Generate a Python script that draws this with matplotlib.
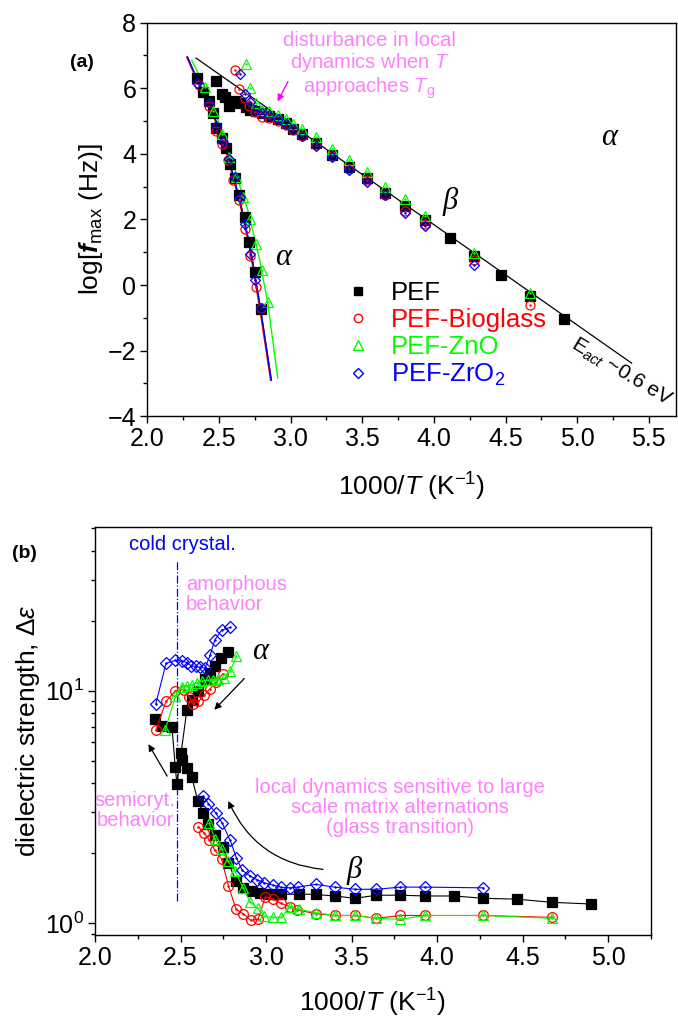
import matplotlib
matplotlib.use("Agg")
import matplotlib.pyplot as plt
from matplotlib.ticker import MultipleLocator, LogLocator, NullFormatter, FixedLocator
from matplotlib.lines import Line2D

plt.rcParams['font.family'] = ['Liberation Sans', 'DejaVu Sans']
plt.rcParams['mathtext.fontset'] = 'custom'
plt.rcParams['mathtext.rm'] = 'Liberation Sans'
plt.rcParams['mathtext.it'] = 'Liberation Sans:italic'
plt.rcParams['mathtext.bf'] = 'Liberation Sans:bold'
plt.rcParams['mathtext.bfit'] = 'Liberation Sans:italic:bold'

BLACK = '#000000'
RED = '#ff0000'
GREEN = '#00ff00'
BLUE = '#0000ff'
VIOLET = '#ff80ff'

# ---------------- panel (a): log f_max vs 1000/T ----------------
pef_a_alpha_x = [2.35, 2.39, 2.43, 2.46, 2.48, 2.52, 2.55, 2.58, 2.61, 2.64, 2.68, 2.71, 2.75, 2.79]
pef_a_alpha_y = [6.30, 5.90, 5.60, 5.24, 4.78, 4.47, 4.17, 3.70, 3.25, 2.75, 2.08, 1.31, 0.40, -0.73]
bio_a_alpha_x = [2.36, 2.43, 2.48, 2.52, 2.56, 2.60, 2.64, 2.68, 2.72, 2.76, 2.79]
bio_a_alpha_y = [6.10, 5.45, 4.70, 4.30, 3.80, 3.20, 2.60, 1.70, 0.90, -0.07, -0.70]
zno_a_alpha_x = [2.40, 2.46, 2.52, 2.57, 2.62, 2.67, 2.72, 2.76, 2.80, 2.84]
zno_a_alpha_y = [6.05, 5.30, 4.60, 3.90, 3.30, 2.70, 2.00, 1.25, 0.45, -0.53]
zro_a_alpha_x = [2.35, 2.43, 2.48, 2.53, 2.57, 2.61, 2.65, 2.68, 2.72, 2.75, 2.79]
zro_a_alpha_y = [6.15, 5.55, 4.85, 4.35, 3.85, 3.30, 2.70, 1.85, 0.95, 0.15, -0.70]

pef_a_beta_x = [2.48, 2.52, 2.54, 2.57, 2.61, 2.65, 2.69, 2.72, 2.76, 2.80, 2.85, 2.91, 2.97, 3.02,
                3.08, 3.18, 3.29, 3.41, 3.53, 3.66, 3.80, 3.94, 4.11, 4.28, 4.47, 4.67, 4.91]
pef_a_beta_y = [6.22, 5.83, 5.74, 5.45, 5.60, 5.55, 5.42, 5.35, 5.30, 5.24, 5.15, 5.06, 4.93, 4.75,
                4.60, 4.32, 3.98, 3.60, 3.25, 2.82, 2.42, 1.98, 1.42, 0.90, 0.32, -0.32, -1.02]
bio_a_beta_x = [2.61, 2.64, 2.68, 2.71, 2.75, 2.80, 2.85, 2.91, 2.97, 3.02, 3.08, 3.18, 3.29, 3.41,
                3.53, 3.66, 3.80, 3.94, 4.28, 4.67]
bio_a_beta_y = [6.56, 5.98, 5.70, 5.45, 5.28, 5.12, 5.08, 5.00, 4.88, 4.72, 4.55, 4.28, 3.95, 3.55,
                3.20, 2.75, 2.25, 1.85, 0.75, -0.60]
zno_a_beta_x = [2.69, 2.72, 2.76, 2.80, 2.85, 2.91, 2.97, 3.02, 3.08, 3.18, 3.29, 3.41, 3.53, 3.66,
                3.80, 3.94, 4.28, 4.67]
zno_a_beta_y = [6.74, 6.00, 5.55, 5.35, 5.30, 5.20, 5.05, 4.90, 4.75, 4.50, 4.15, 3.80, 3.45, 3.00,
                2.62, 2.12, 0.98, -0.25]
zro_a_beta_x = [2.65, 2.68, 2.72, 2.76, 2.80, 2.85, 2.91, 2.97, 3.02, 3.08, 3.18, 3.29, 3.41, 3.53,
                3.66, 3.80, 3.94, 4.28]
zro_a_beta_y = [6.45, 5.83, 5.58, 5.35, 5.25, 5.18, 5.05, 4.90, 4.75, 4.55, 4.25, 3.90, 3.50, 3.15,
                2.75, 2.20, 1.80, 0.62]

# fit curves
beta_fit_x = [2.34, 5.38]
beta_fit_y = [6.92, -2.38]
vft_pef_x = [2.28, 2.35, 2.45, 2.55, 2.65, 2.72, 2.79, 2.865]
vft_bio_x = [2.275, 2.345, 2.445, 2.545, 2.645, 2.715, 2.785, 2.86]
vft_y = [6.95, 6.25, 5.35, 4.15, 2.50, 1.10, -0.73, -2.90]
vft_zno_x = [2.31, 2.40, 2.50, 2.60, 2.70, 2.78, 2.84, 2.91]
vft_zno_y = [6.85, 6.05, 4.95, 3.65, 2.30, 0.85, -0.53, -2.83]

# ---------------- panel (b): dielectric strength ----------------
pef_b_alpha_x = [2.353, 2.39, 2.45, 2.469, 2.479, 2.537, 2.566, 2.605, 2.644, 2.673, 2.70, 2.736, 2.775]
pef_b_alpha_y = [7.54, 7.05, 6.97, 4.70, 3.96, 8.27, 9.14, 9.95, 11.2, 11.9, 12.7, 13.8, 14.6]
pef_b_beta_x = [2.504, 2.51, 2.537, 2.566, 2.60, 2.634, 2.663, 2.70, 2.75, 2.78, 2.824, 2.866, 2.915,
                2.963, 3.01, 3.05, 3.09, 3.19, 3.29, 3.40, 3.52, 3.645, 3.785, 3.93, 4.10, 4.27,
                4.465, 4.67, 4.90]
pef_b_beta_y = [5.37, 5.05, 4.63, 4.26, 3.37, 2.97, 2.67, 2.40, 2.12, 1.81, 1.52, 1.42, 1.38,
                1.35, 1.34, 1.33, 1.33, 1.335, 1.33, 1.31, 1.28, 1.32, 1.32, 1.31, 1.31, 1.28,
                1.27, 1.23, 1.21]
bio_b_alpha_x = [2.356, 2.415, 2.47, 2.52, 2.55, 2.57, 2.605, 2.64, 2.673, 2.71, 2.746]
bio_b_alpha_y = [6.75, 8.99, 10.0, 10.1, 9.4, 8.8, 9.0, 9.6, 10.2, 10.9, 11.8]
bio_b_beta_x = [2.605, 2.638, 2.669, 2.70, 2.74, 2.78, 2.824, 2.866, 2.91, 2.953, 2.996, 3.04,
                3.085, 3.138, 3.18, 3.29, 3.40, 3.52, 3.645, 3.785, 3.93, 4.27, 4.67]
bio_b_beta_y = [2.60, 2.44, 2.28, 2.06, 1.89, 1.45, 1.15, 1.10, 1.03, 1.04, 1.30, 1.27,
                1.22, 1.18, 1.14, 1.10, 1.08, 1.08, 1.05, 1.08, 1.08, 1.08, 1.06]
zno_b_alpha_x = [2.41, 2.47, 2.508, 2.54, 2.566, 2.595, 2.628, 2.66, 2.69, 2.72, 2.756, 2.79, 2.827]
zno_b_alpha_y = [6.78, 9.45, 10.4, 10.5, 10.6, 10.8, 11.0, 11.1, 11.1, 11.2, 11.3, 12.1, 14.1]
zno_b_beta_x = [2.669, 2.70, 2.74, 2.775, 2.818, 2.866, 2.905, 2.95, 2.99, 3.04, 3.09, 3.14, 3.19,
                3.29, 3.40, 3.52, 3.645, 3.785, 3.93, 4.27, 4.67]
zno_b_beta_y = [2.69, 2.30, 2.08, 1.85, 1.68, 1.42, 1.24, 1.16, 1.07, 1.06, 1.06, 1.18, 1.15,
                1.11, 1.08, 1.08, 1.05, 1.04, 1.08, 1.08, 1.05]
zro_b_alpha_x = [2.356, 2.415, 2.47, 2.51, 2.537, 2.562, 2.589, 2.614, 2.643, 2.673, 2.70, 2.74, 2.79]
zro_b_alpha_y = [8.79, 13.1, 13.5, 13.4, 13.2, 12.8, 12.7, 12.6, 12.5, 14.2, 16.5, 18.2, 18.7]
zro_b_beta_x = [2.634, 2.663, 2.707, 2.744, 2.789, 2.827, 2.86, 2.905, 2.946, 2.99, 3.04, 3.085,
                3.138, 3.186, 3.29, 3.40, 3.52, 3.645, 3.785, 3.93, 4.27]
zro_b_beta_y = [3.51, 3.27, 2.97, 2.69, 2.28, 1.91, 1.69, 1.60, 1.54, 1.49, 1.46, 1.43,
                1.42, 1.43, 1.47, 1.43, 1.40, 1.40, 1.43, 1.43, 1.42]

cold_cryst_x = 2.48

TICK_FS = 18
LABEL_FS = 19


def draw(ax, x, y, color, marker, ms, filled=False, line=False):
    ax.plot(x, y, ls='-' if line else 'none', lw=0.8, color=color, marker=marker, ms=ms,
            mfc=color if filled else 'none', mec=color, mew=0.9)
    if not filled:
        ax.plot(x, y, ls='none', marker='.', ms=1.6, color=color)


def style_axes(ax):
    for s in ax.spines.values():
        s.set_linewidth(1.0)
    ax.tick_params(which='major', direction='out', length=5, width=1.0, labelsize=TICK_FS,
                   top=False, right=False, pad=3)
    ax.tick_params(which='minor', direction='out', length=3, width=1.0, top=False, right=False)


fig = plt.figure(figsize=(6.78, 10.21), dpi=100)

# ===== panel (a) =====
ax1 = fig.add_axes([0.2173, 0.5923, 0.7798, 0.3855])
ax1.plot(vft_pef_x, vft_y, color=BLACK, lw=1.0)
ax1.plot(vft_bio_x, vft_y, color=RED, lw=1.0)
ax1.plot(vft_zno_x, vft_zno_y, color=GREEN, lw=1.0)
ax1.plot(vft_pef_x, vft_y, color=BLUE, lw=1.0)
ax1.plot(beta_fit_x, beta_fit_y, color=BLACK, lw=0.9)

draw(ax1, pef_a_alpha_x, pef_a_alpha_y, BLACK, 's', 6.5, filled=True)
draw(ax1, pef_a_beta_x, pef_a_beta_y, BLACK, 's', 6.5, filled=True)
draw(ax1, bio_a_alpha_x, bio_a_alpha_y, RED, 'o', 6.5)
draw(ax1, bio_a_beta_x, bio_a_beta_y, RED, 'o', 6.5)
draw(ax1, zno_a_alpha_x, zno_a_alpha_y, GREEN, '^', 7)
draw(ax1, zno_a_beta_x, zno_a_beta_y, GREEN, '^', 7)
draw(ax1, zro_a_alpha_x, zro_a_alpha_y, BLUE, 'D', 5.5)
draw(ax1, zro_a_beta_x, zro_a_beta_y, BLUE, 'D', 5.5)

ax1.set_xlim(2.0, 5.69)
ax1.set_ylim(-4, 8)
ax1.xaxis.set_major_locator(MultipleLocator(0.5))
ax1.xaxis.set_minor_locator(MultipleLocator(0.25))
ax1.yaxis.set_major_locator(MultipleLocator(2))
ax1.yaxis.set_minor_locator(MultipleLocator(1))
ax1.xaxis.set_major_formatter(matplotlib.ticker.FormatStrFormatter('%.1f'))
style_axes(ax1)
ax1.set_xlabel('1000/$T$ (K$^{-1}$)', fontsize=LABEL_FS, labelpad=14)
ax1.set_ylabel('log[$\\boldsymbol{f}_{\\rm max}$ (Hz)]', fontsize=LABEL_FS, labelpad=2)

handles = [
    Line2D([], [], ls='none', marker='s', ms=6, color=BLACK, mfc=BLACK),
    Line2D([], [], ls='none', marker='o', ms=6, color=RED, mfc='none'),
    Line2D([], [], ls='none', marker='^', ms=6.5, color=GREEN, mfc='none'),
    Line2D([], [], ls='none', marker='D', ms=5, color=BLUE, mfc='none'),
]
labels = ['PEF', 'PEF-Bioglass', 'PEF-ZnO', 'PEF-ZrO$_2$']
leg = ax1.legend(handles, labels, loc='center left', bbox_to_anchor=(0.375, 0.208),
                 frameon=False, fontsize=18.5, handlelength=1.0, handletextpad=0.75,
                 labelspacing=0.12, borderpad=0, borderaxespad=0)
for t, c in zip(leg.get_texts(), [BLACK, RED, GREEN, BLUE]):
    t.set_color(c)

ax1.text(-0.123, 0.90, '(a)', transform=ax1.transAxes, fontsize=14, fontweight='bold',
         ha='center', va='center')
ax1.text(3.55, 6.68, 'disturbance in local\ndynamics when $T$\napproaches $T_{\\rm g}$',
         color=VIOLET, fontsize=14.5, ha='center', va='center', linespacing=1.05)
ax1.annotate('', xy=(2.90, 5.52), xytext=(2.99, 6.28),
             arrowprops=dict(arrowstyle='-|>', color='#ff00ff', lw=1.0, mutation_scale=10))
ax1.text(5.22, 4.50, '\u03b1', fontsize=22, family='Liberation Serif', style='italic',
         ha='center', va='center')
ax1.text(2.95, 0.85, '\u03b1', fontsize=22, family='Liberation Serif', style='italic',
         ha='center', va='center')
ax1.text(4.11, 2.54, '\u03b2', fontsize=22, family='Liberation Serif', style='italic',
         ha='center', va='center')
ax1.text(5.31, -2.66, 'E$_{\\mathit{act}}$ ~0.6 eV', fontsize=15, rotation=-31,
         ha='center', va='center', rotation_mode='anchor')

# ===== panel (b) =====
ax2 = fig.add_axes([0.1401, 0.0842, 0.8201, 0.3996])
ax2.set_yscale('log')
ax2.plot([cold_cryst_x, cold_cryst_x], [1.25, 36], color=BLUE, lw=0.9, ls='-.')

draw(ax2, pef_b_alpha_x, pef_b_alpha_y, BLACK, 's', 7, filled=True, line=True)
draw(ax2, pef_b_beta_x, pef_b_beta_y, BLACK, 's', 7, filled=True, line=True)
draw(ax2, bio_b_alpha_x, bio_b_alpha_y, RED, 'o', 7, line=True)
draw(ax2, bio_b_beta_x, bio_b_beta_y, RED, 'o', 7, line=True)
draw(ax2, zno_b_alpha_x, zno_b_alpha_y, GREEN, '^', 7.5, line=True)
draw(ax2, zno_b_beta_x, zno_b_beta_y, GREEN, '^', 7.5, line=True)
draw(ax2, zro_b_alpha_x, zro_b_alpha_y, BLUE, 'D', 6, line=True)
draw(ax2, zro_b_beta_x, zro_b_beta_y, BLUE, 'D', 6, line=True)

ax2.set_xlim(2.0, 5.25)
ax2.set_ylim(0.89, 50.5)
ax2.xaxis.set_major_locator(MultipleLocator(0.5))
ax2.xaxis.set_minor_locator(MultipleLocator(0.25))
ax2.xaxis.set_major_formatter(matplotlib.ticker.FormatStrFormatter('%.1f'))
ax2.yaxis.set_major_locator(FixedLocator([1, 10]))
ax2.yaxis.set_minor_locator(LogLocator(base=10, subs=range(2, 10)))
ax2.yaxis.set_minor_formatter(NullFormatter())
style_axes(ax2)
ax2.set_xlabel('1000/$T$ (K$^{-1}$)', fontsize=LABEL_FS, labelpad=12)
ax2.set_ylabel('dielectric strength, \u0394$\\mathit{\\varepsilon}$', fontsize=LABEL_FS,
               labelpad=2)

ax2.text(-0.126, 0.936, '(b)', transform=ax2.transAxes, fontsize=14, fontweight='bold',
         ha='center', va='center')
ax2.text(0.158, 0.958, 'cold crystal.', transform=ax2.transAxes, color=BLUE, fontsize=14.5,
         ha='center', va='center')
ax2.text(0.164, 0.835, 'amorphous\nbehavior', transform=ax2.transAxes, color=VIOLET,
         fontsize=14.5, ha='left', va='center', linespacing=1.05)
ax2.text(0.072, 0.305, 'semicryt.\nbehavior', transform=ax2.transAxes, color=VIOLET,
         fontsize=14.5, ha='center', va='center', linespacing=1.05)
ax2.text(0.549, 0.313, 'local dynamics sensitive to large\nscale matrix alternations\n(glass transition)',
         transform=ax2.transAxes, color=VIOLET, fontsize=14.5, ha='center', va='center',
         linespacing=1.05)
ax2.text(2.965, 14.7, '\u03b1', fontsize=22, family='Liberation Serif', style='italic',
         ha='center', va='center')
ax2.text(3.515, 1.68, '\u03b2', fontsize=22, family='Liberation Serif', style='italic',
         ha='center', va='center')

arrow_kw = dict(arrowstyle='-|>', color=BLACK, lw=0.9, mutation_scale=10)
ax2.annotate('', xy=(2.686, 8.11), xytext=(2.884, 11.5), arrowprops=arrow_kw)
ax2.annotate('', xy=(2.304, 6.03), xytext=(2.430, 4.19), arrowprops=arrow_kw)
ax2.annotate('', xy=(2.773, 3.44), xytext=(3.349, 1.70),
             arrowprops=dict(arrow_kw, connectionstyle='arc3,rad=-0.3'))

fig.savefig('out.png', dpi=100)
